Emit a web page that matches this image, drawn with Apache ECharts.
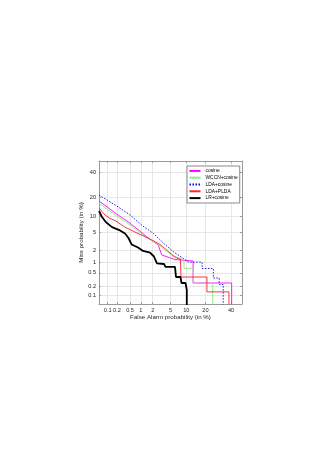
<!DOCTYPE html>
<html>
<head>
<meta charset="utf-8">
<script src="https://cdn.jsdelivr.net/npm/echarts@6/dist/echarts.min.js"></script>
<style>html,body{margin:0;padding:0;background:#fff;}#c{width:333px;height:471px;}</style>
</head>
<body>
<div id="c"></div>
<script>
// Tick labels (percent)
const tickPercents = [0.1, 0.2, 0.5, 1, 2, 5, 10, 20, 40];
const tickLabels = ['0.1', '0.2', '0.5', '1', '2', '5', '10', '20', '40'];
const axisMinPercent = 0.05;
const axisMaxPercent = 50;

// Series (false alarm %, miss %)
const cosineFA   = [0.05, 0.197, 0.5, 1.42, 2.7, 2.96, 3.23, 6.15, 13.0, 13.0, 40.6, 40.6];
const cosineMiss = [17.9, 11.1, 7.6, 4.08, 2.66, 2.39, 1.53, 1.17, 1.07, 0.25, 0.25, 0.01];

const wccnFA   = [0.05, 0.197, 0.5, 1.42, 2.5, 3.82, 5.6, 7.68, 9.1, 9.1, 13.1, 13.1, 25.0, 25.0];
const wccnMiss = [16.5, 10.3, 7.0, 3.92, 2.88, 2.03, 1.44, 1.28, 1.14, 0.68, 0.68, 0.245, 0.245, 0.01];

const ldaFA   = [0.05, 0.22, 0.5, 1.05, 2.06, 3.5, 5.7, 8.8, 10.8, 17.9, 17.9, 25.5, 25.5, 30.0, 30.0, 33.3, 33.3];
const ldaMiss = [21.7, 14.5, 10.7, 7.0, 4.8, 2.96, 1.85, 1.25, 1.0, 1.0, 0.67, 0.67, 0.355, 0.355, 0.224, 0.224, 0.01];

const pldaFA   = [0.05, 0.081, 0.12, 0.174, 0.355, 0.69, 1.28, 2.26, 2.96, 3.82, 4.88, 6.15, 7.03, 7.85, 8.0, 21.0, 21.0, 38.2, 38.2];
const pldaMiss = [14.0, 10.7, 9.3, 8.55, 6.4, 5.1, 4.08, 3.17, 2.73, 2.2, 1.71, 1.36, 1.24, 1.2, 0.38, 0.38, 0.13, 0.13, 0.01];

const lrFA   = [0.05, 0.062, 0.086, 0.139, 0.25, 0.355, 0.45, 0.557, 0.835, 1.14, 1.71, 2.14, 2.52, 3.63, 3.92, 6.15, 6.44, 7.85, 8.2, 9.7, 10.2, 10.2];
const lrMiss = [12.5, 10.1, 8.0, 6.4, 5.5, 4.76, 3.82, 2.73, 2.33, 1.92, 1.76, 1.40, 0.92, 0.89, 0.74, 0.74, 0.38, 0.38, 0.25, 0.25, 0.15, 0.01];

function probit(p) {
  const a=[-3.969683028665376e+01,2.209460984245205e+02,-2.759285104469687e+02,1.383577518672690e+02,-3.066479806614716e+01,2.506628277459239e+00];
  const b=[-5.447609879822406e+01,1.615858368580409e+02,-1.556989798598866e+02,6.680131188771972e+01,-1.328068155288572e+01];
  const c=[-7.784894002430293e-03,-3.223964580411365e-01,-2.400758277161838e+00,-2.549732539343734e+00,4.374664141464968e+00,2.938163982698783e+00];
  const d=[7.784695709041462e-03,3.224671290700398e-01,2.445134137142996e+00,3.754408661907416e+00];
  const pl=0.02425, ph=1-pl;
  let q, r;
  if (p < pl) { q=Math.sqrt(-2*Math.log(p)); return (((((c[0]*q+c[1])*q+c[2])*q+c[3])*q+c[4])*q+c[5])/((((d[0]*q+d[1])*q+d[2])*q+d[3])*q+1); }
  if (p <= ph) { q=p-0.5; r=q*q; return (((((a[0]*r+a[1])*r+a[2])*r+a[3])*r+a[4])*r+a[5])*q/(((((b[0]*r+b[1])*r+b[2])*r+b[3])*r+b[4])*r+1); }
  q=Math.sqrt(-2*Math.log(1-p)); return -(((((c[0]*q+c[1])*q+c[2])*q+c[3])*q+c[4])*q+c[5])/((((d[0]*q+d[1])*q+d[2])*q+d[3])*q+1);
}
const P = v => probit(v / 100);
const tickVals = tickPercents.map(P);
const AMIN = P(axisMinPercent), AMAX = P(axisMaxPercent);
function fmt(v) {
  let best = 0, bd = 1e9;
  tickVals.forEach((t, i) => { const d = Math.abs(t - v); if (d < bd) { bd = d; best = i; } });
  return tickLabels[best];
}
const toData = (fa, miss) => fa.map((f, i) => [P(f), P(miss[i])]);

const FF = '"Liberation Sans", Arial, Helvetica, sans-serif';
const boxColor = '#9a9a9a';
const gridColor = '#e6e6e6';

function mainAxis(pos, name, gap) {
  return {
    type: 'value', min: AMIN, max: AMAX, position: pos,
    name: name, nameLocation: 'middle', nameGap: gap,
    nameTextStyle: { fontSize: 6.2, color: '#262626', fontFamily: FF },
    axisLine: { show: true, onZero: false, lineStyle: { color: boxColor, width: 1 } },
    axisTick: { show: true, inside: true, length: 2, customValues: tickVals, lineStyle: { color: boxColor, width: 1 } },
    axisLabel: { show: true, customValues: tickVals, formatter: fmt, fontSize: 5.6, margin: 3, color: '#262626', fontFamily: FF },
    splitLine: { show: true, lineStyle: { color: gridColor, width: 1 } }
  };
}
function sideAxis(pos) {
  return {
    type: 'value', min: AMIN, max: AMAX, position: pos,
    axisLine: { show: true, onZero: false, lineStyle: { color: boxColor, width: 1 } },
    axisTick: { show: true, inside: true, length: 2, customValues: tickVals, lineStyle: { color: boxColor, width: 1 } },
    axisLabel: { show: false },
    splitLine: { show: false }
  };
}

const chart = echarts.init(document.getElementById('c'), null, { renderer: 'canvas' });
const mk = (name, data, color, width, type) => ({
  name, type: 'line', data, xAxisIndex: 0, yAxisIndex: 0,
  symbol: 'none', showSymbol: false, clip: true, animation: false,
  lineStyle: { color, width, type: type || 'solid' }, itemStyle: { color }
});
chart.setOption({
  animation: false,
  backgroundColor: '#fff',
  grid: { left: 99, top: 161, width: 143, height: 143, containLabel: false },
  xAxis: [mainAxis('bottom', 'False Alarm probability (in %)', 10), sideAxis('top')],
  yAxis: [mainAxis('left', 'Miss probability (in %)', 13), sideAxis('right')],
  legend: {
    left: 187, top: 166, orient: 'vertical',
    itemWidth: 11, itemHeight: 5, itemGap: 0,
    padding: [1.5, 2, 1.5, 1.5],
    borderColor: '#8a8a8a', borderWidth: 1, backgroundColor: '#fff',
    itemStyle: { opacity: 0 },
    textStyle: { fontSize: 4.9, lineHeight: 6.8, color: '#000', fontFamily: FF },
    data: ['cosine', 'WCCN+cosine', 'LDA+cosine', 'LDA+PLDA', 'LR+cosine']
  },
  series: [
    mk('cosine', toData(cosineFA, cosineMiss), '#ff00ff', 0.9),
    mk('WCCN+cosine', toData(wccnFA, wccnMiss), '#88ee88', 0.9),
    mk('LDA+cosine', toData(ldaFA, ldaMiss), '#0000ff', 0.9, [1.5, 1.5]),
    mk('LDA+PLDA', toData(pldaFA, pldaMiss), '#ff2020', 0.9),
    mk('LR+cosine', toData(lrFA, lrMiss), '#000000', 1.8)
  ]
});
</script>
</body>
</html>
